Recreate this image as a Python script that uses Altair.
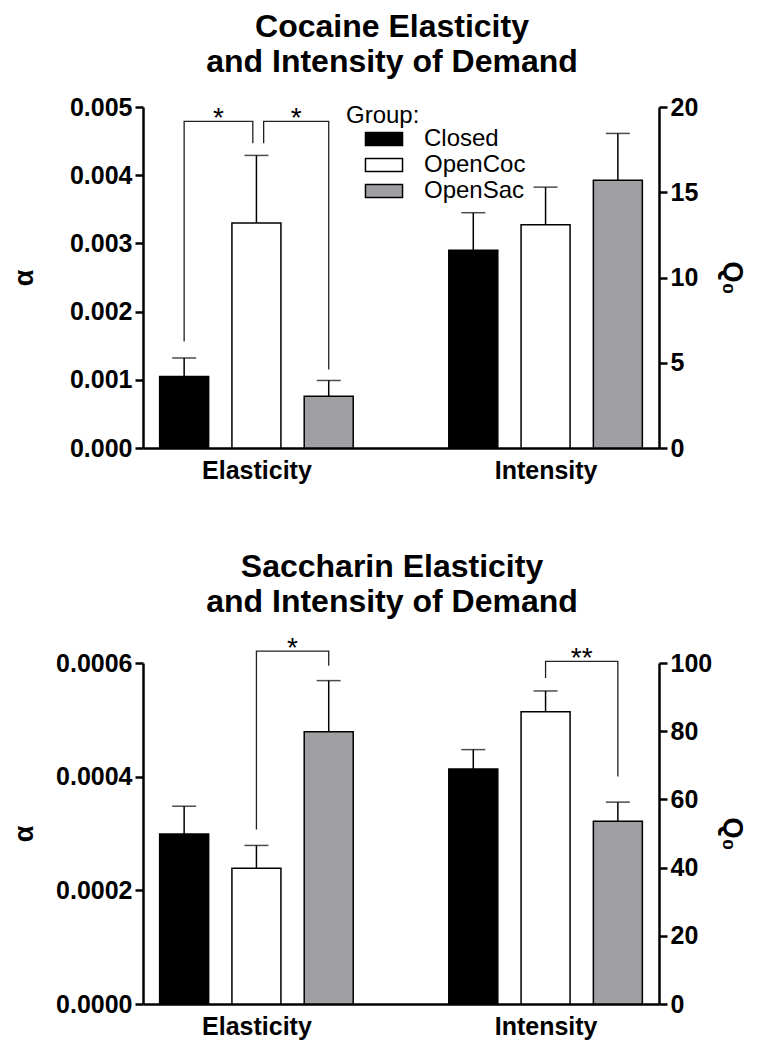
import altair as alt
import pandas as pd

FONT = "Liberation Sans, Arial, Helvetica, sans-serif"

groups = ["Closed", "OpenCoc", "OpenSac"]
measures = ["Elasticity", "Intensity"]
fill_colors = ["#000000", "#FFFFFF", "#A0A0A4"]

# Cocaine panel (mean and SEM)
coc_alpha = [0.00105, 0.00330, 0.00076]
coc_alpha_sem = [0.00027, 0.00099, 0.00023]
coc_q0 = [11.6, 13.1, 15.7]
coc_q0_sem = [2.2, 2.2, 2.75]

# Saccharin panel (mean and SEM)
sac_alpha = [0.000299, 0.000239, 0.000479]
sac_alpha_sem = [0.000049, 0.000040, 0.000090]
sac_q0 = [68.9, 85.7, 53.6]
sac_q0_sem = [5.7, 6.1, 5.6]

# significance brackets: measure, from, to, from-leg bottom, to-leg bottom, top, label, from nudge, to nudge
coc_brackets = [
    ("Elasticity", "Closed", "OpenCoc", 0.00156, 0.00447, 0.00479, "*", 0.0, -0.05),
    ("Elasticity", "OpenCoc", "OpenSac", 0.00447, 0.00115, 0.00479, "*", 0.1, 0.0),
]
sac_brackets = [
    ("Elasticity", "OpenCoc", "OpenSac", 0.000307, 0.000595, 0.000621, "*", 0.0, 0.0),
    ("Intensity", "OpenCoc", "OpenSac", 95.6, 66.7, 100.5, "**", 0.0, 0.0),
]

coc_title = ["Cocaine Elasticity", "and Intensity of Demand"]
sac_title = ["Saccharin Elasticity", "and Intensity of Demand"]


def pos(m, g):
    return measures.index(m) * (len(groups) + 1) + groups.index(g)


def centre(m):
    return measures.index(m) * (len(groups) + 1) + (len(groups) - 1) / 2


def panel(title, a_vals, a_sem, q_vals, q_sem, a_ticks, a_fmt, a_max, q_ticks, q_max, brackets, legend):
    rows = []
    for m, vals, sems in [("Elasticity", a_vals, a_sem), ("Intensity", q_vals, q_sem)]:
        for gi, g in enumerate(groups):
            rows.append(dict(measure=m, group=g, pos=pos(m, g), value=vals[gi], upper=vals[gi] + sems[gi]))
    bars_df = pd.DataFrame(rows)

    lrows, srows = [], []
    for bi, (m, ga, gb, ya, yb, top, lab, na, nb) in enumerate(brackets):
        xa = pos(m, ga) + na
        xb = pos(m, gb) + nb
        for o, (xx, yy) in enumerate([(xa, ya), (xa, top), (xb, top), (xb, yb)]):
            lrows.append(dict(measure=m, bid=bi, ord=o, x=xx, y=yy))
        srows.append(dict(measure=m, x=(xa + xb) / 2, y=top, label=lab))
    lines_df = pd.DataFrame(lrows)
    stars_df = pd.DataFrame(srows)

    c1, c2 = centre("Elasticity"), centre("Intensity")
    xscale = alt.Scale(domain=[-0.5, 6.5], nice=False, zero=False)
    xaxis = alt.Axis(
        values=[c1, c2],
        labelExpr=f"datum.value == {c1} ? '{measures[0]}' : '{measures[1]}'",
        ticks=False, title=None, grid=False, domainWidth=2.5,
        labelFontSize=25, labelFontWeight="bold", labelPadding=10,
    )

    cscale = alt.Scale(domain=groups, range=fill_colors)

    def side(m, ydom, yaxis):
        yscale = alt.Scale(domain=ydom, nice=False, zero=True)
        bdf = bars_df[bars_df.measure == m]
        base = alt.Chart(bdf)
        layers = [
            base.mark_bar(size=49, stroke="black", strokeWidth=1.5).encode(
                x=alt.X("pos:Q", scale=xscale, axis=xaxis),
                y=alt.Y("value:Q", scale=yscale, axis=yaxis),
                fill=alt.Fill("group:N", scale=cscale, legend=legend),
            ),
            base.mark_rule(color="black", strokeWidth=1.5).encode(
                x=alt.X("pos:Q", scale=xscale, axis=xaxis),
                y=alt.Y("value:Q", scale=yscale, axis=yaxis),
                y2="upper:Q",
            ),
            base.mark_tick(orient="horizontal", size=24, thickness=1.5, color="black").encode(
                x=alt.X("pos:Q", scale=xscale, axis=xaxis),
                y=alt.Y("upper:Q", scale=yscale, axis=yaxis),
            ),
        ]
        if len(lines_df) and (lines_df.measure == m).any():
            ldf = lines_df[lines_df.measure == m]
            sdf = stars_df[stars_df.measure == m]
            layers.append(
                alt.Chart(ldf).mark_line(color="#222222", strokeWidth=1.3).encode(
                    x=alt.X("x:Q", scale=xscale, axis=xaxis),
                    y=alt.Y("y:Q", scale=yscale, axis=yaxis),
                    detail="bid:N",
                    order="ord:Q",
                )
            )
            layers.append(
                alt.Chart(sdf).mark_text(fontSize=28, font=FONT, baseline="alphabetic", dy=6, color="black").encode(
                    x=alt.X("x:Q", scale=xscale, axis=xaxis),
                    y=alt.Y("y:Q", scale=yscale, axis=yaxis),
                    text="label:N",
                )
            )
        return alt.layer(*layers)

    common = dict(
        grid=False, tickSize=8, tickWidth=2.5, domainWidth=2.5,
        labelFontSize=25, labelFontWeight="bold", labelPadding=3,
        titleFontSize=27, titleFontWeight="bold",
    )
    left_axis = alt.Axis(orient="left", title="α", values=a_ticks, format=a_fmt, titleX=-105, **common)
    right_axis = alt.Axis(orient="right", title="Q₀", values=q_ticks, format="d", titleX=58, **common)

    return alt.layer(
        side("Elasticity", [0, a_max], left_axis),
        side("Intensity", [0, q_max], right_axis),
    ).resolve_scale(y="independent").properties(
        width=516,
        height=341,
        title=alt.TitleParams(
            text=title, fontSize=32, font=FONT, fontWeight="bold", anchor="middle",
            lineHeight=35, offset=16, dx=-9, color="black",
        ),
    )


legend = alt.Legend(
    orient="none", legendX=203, legendY=-3, title="Group:",
    titleFontSize=24, titleFontWeight="normal", titleFont=FONT, titleColor="black",
    labelFontSize=24, labelFont=FONT, labelColor="black",
    symbolType="M-2.85,-1H2.85V1H-2.85Z", symbolSize=169,
    symbolStrokeColor="black", symbolStrokeWidth=1.5,
    symbolOffset=26, labelOffset=28, rowPadding=2, titlePadding=-1,
)

top = panel(coc_title, coc_alpha, coc_alpha_sem, coc_q0, coc_q0_sem,
            [0, 0.001, 0.002, 0.003, 0.004, 0.005], ".3f", 0.005,
            [0, 5, 10, 15, 20], 20, coc_brackets, legend)
bottom = panel(sac_title, sac_alpha, sac_alpha_sem, sac_q0, sac_q0_sem,
               [0, 0.0002, 0.0004, 0.0006], ".4f", 0.0006,
               [0, 20, 40, 60, 80, 100], 100, sac_brackets, None)

chart = alt.vconcat(top, bottom, spacing=215, bounds="flush").resolve_scale(
    color="independent"
).configure_view(stroke=None).configure_axis(
    labelFont=FONT, titleFont=FONT, labelColor="black", titleColor="black",
    domainColor="black", tickColor="black",
).configure_legend(labelFont=FONT, titleFont=FONT).properties(
    padding={"left": 2, "top": 3, "right": 5, "bottom": 5}
)

chart.save("out.html", embed_options={"renderer": "svg", "actions": False})
